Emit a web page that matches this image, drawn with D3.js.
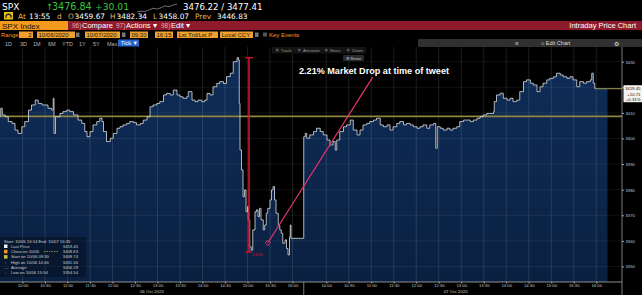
<!DOCTYPE html>
<html lang="en">
<head>
<meta charset="UTF-8">
<title>SPX Intraday Price Chart</title>
<script src="https://d3js.org/d3.v7.min.js"></script>
<style>
  html, body { margin: 0; padding: 0; background: #000; overflow: hidden; }
  svg { display: block; font-family: "Liberation Sans", Arial, sans-serif; }
</style>
</head>
<body>
<svg width="642" height="295"></svg>
<script>
// ---- data ----
const day1Times = ["09:30","09:31","09:33","09:37","09:41","09:46","09:50","09:54","09:59","10:03","10:08","10:12","10:17","10:21","10:26","10:30","10:34","10:39","10:41","10:42","10:44","10:50","10:54","10:59","11:03","11:08","11:14","11:19","11:23","11:26","11:30","11:34","11:39","11:43","11:46","11:48","11:52","11:57","12:01","12:06","12:10","12:14","12:19","12:23","12:28","12:32","12:37","12:41","12:46","12:50","12:54","12:59","13:03","13:08","13:12","13:17","13:21","13:26","13:30","13:34","13:39","13:41","13:46","13:50","13:54","13:59","14:03","14:06","14:10","14:14","14:19","14:23","14:28","14:32","14:37","14:41","14:46","14:48","14:49","14:50","14:52","14:54","14:56","14:58","15:00","15:01","15:03","15:05","15:07","15:10","15:12","15:14","15:16","15:18","15:21","15:23","15:25","15:27","15:30","15:32","15:34","15:36","15:38","15:41","15:43","15:45","15:47","15:50","15:52","15:54","15:56","15:57","15:58","16:15"];
const day1Prices = [3408.7,3411.8,3409.2,3408.5,3406.6,3405.9,3403.3,3402.0,3404.6,3406.6,3411.1,3413.1,3415.0,3413.7,3413.1,3413.1,3411.8,3411.1,3415.7,3402.0,3408.5,3409.8,3410.5,3411.1,3410.5,3409.2,3407.2,3405.9,3402.7,3400.7,3402.7,3405.3,3406.6,3407.9,3406.6,3402.7,3398.8,3400.1,3402.0,3404.0,3404.6,3405.3,3405.9,3406.6,3406.2,3405.3,3405.9,3407.2,3408.5,3412.4,3413.1,3413.7,3414.4,3417.0,3417.6,3417.0,3418.9,3417.0,3416.3,3415.7,3416.3,3418.3,3415.0,3414.4,3415.0,3414.4,3415.0,3417.6,3417.0,3420.2,3421.5,3422.2,3421.5,3424.2,3425.5,3430.0,3431.56,3430.7,3413.7,3395.5,3387.7,3377.3,3379.9,3371.4,3373.4,3368.2,3357.7,3356.4,3364.3,3371.4,3372.1,3369.5,3372.7,3368.2,3364.3,3366.2,3370.8,3372.7,3376.0,3379.9,3381.2,3376.0,3370.8,3366.2,3364.3,3363.0,3359.1,3360.4,3357.0,3354.54,3361.6,3366.2,3361.0,3361.0];

const day2Times = ["09:30","09:32","09:34","09:38","09:43","09:47","09:52","09:56","10:01","10:05","10:09","10:12","10:14","10:18","10:23","10:27","10:32","10:36","10:41","10:45","10:49","10:54","10:58","11:03","11:07","11:12","11:16","11:21","11:25","11:29","11:34","11:38","11:43","11:47","11:52","11:56","12:01","12:05","12:09","12:14","12:18","12:23","12:26","12:28","12:32","12:36","12:41","12:45","12:49","12:54","12:58","13:03","13:07","13:12","13:16","13:21","13:25","13:29","13:34","13:38","13:43","13:44","13:47","13:52","13:56","14:01","14:05","14:09","14:14","14:18","14:23","14:27","14:32","14:36","14:41","14:45","14:49","14:54","14:58","15:03","15:07","15:12","15:16","15:21","15:25","15:29","15:34","15:38","15:43","15:47","15:52","15:54","15:56","15:58","16:00"];
const day2Prices = [3400.7,3402.0,3400.1,3401.4,3402.7,3404.0,3402.7,3401.4,3399.4,3397.5,3398.8,3395.5,3399.4,3402.7,3404.6,3405.3,3407.2,3403.3,3401.4,3403.3,3405.3,3405.9,3406.6,3407.2,3407.9,3405.3,3404.6,3405.3,3403.3,3404.6,3405.9,3406.6,3405.3,3405.9,3405.3,3404.6,3404.0,3404.6,3405.3,3404.0,3405.3,3405.9,3396.2,3404.6,3404.0,3403.3,3404.0,3403.3,3404.0,3404.6,3406.6,3407.2,3407.2,3406.6,3407.2,3407.9,3408.5,3409.2,3409.8,3409.8,3410.5,3414.4,3417.0,3417.7,3415.7,3415.0,3415.7,3414.4,3415.0,3418.3,3422.2,3422.9,3421.6,3420.9,3418.3,3420.2,3421.6,3422.9,3423.5,3424.1,3425.5,3424.8,3424.1,3423.5,3424.1,3422.9,3420.2,3422.2,3421.6,3422.2,3422.9,3425.5,3421.6,3419.6,3419.45];

const timeTicks = ["10:00","10:30","11:00","11:30","12:00","12:30","13:00","13:30","14:00","14:30","15:00","15:30","16:00"];
const dayLabels = ["06 Oct 2020", "07 Oct 2020"];
const priceTicks = [3350, 3360, 3370, 3380, 3390, 3400, 3410, 3420, 3430];

const lastPrice = 3419.45;
const prevClose = 3408.63;
const highPrice = 3431.56;
const dropLow = 3355.7;   // high less 2.21%

const sparkValues = [3447, 3450, 3449, 3455, 3461, 3458, 3463, 3470, 3467, 3473, 3477];

const legendHeader = "Start: 10/05 16:14  End: 10/07 16:35";
const legendLabels = ["Last Price", "Close on 10/05", "Start on 10/06 09:30", "High on 10/06 14:46", "Average", "Low on 10/06 15:54"];
const legendValues = ["3419.45", "3408.63", "3408.74", "3431.56", "3406.29", "3354.54"];
const legendMarks = ["#f2f2f2", "#f39c1f", "#c9c23a", "#9aa0a6", "#9aa0a6", "#9aa0a6"];

// ---- layout ----
const svg = d3.select("svg");
const plotTop = 47, plotBottom = 282, plotRight = 622;
const sessionLen = 405; // 09:30 - 16:15

function sess(day, hhmm) {
  const [h, m] = hhmm.split(":").map(Number);
  return day * sessionLen + h * 60 + m - 570;
}

const x = d3.scaleLinear().domain([0, 2 * sessionLen]).range([0, 607.5]);
const y = d3.scaleLinear().domain([3350, 3430]).range([266.5, 61.7]);

const series = day1Times.map((t, i) => ({ t: sess(0, t), v: day1Prices[i] }))
  .concat(day2Times.map((t, i) => ({ t: sess(1, t), v: day2Prices[i] })));
const areaData = series.concat([{ t: 2 * sessionLen, v: lastPrice }]);

function txt(g, px, py, s, o = {}) {
  return g.append("text").attr("x", px).attr("y", py).text(s)
    .attr("font-size", o.size || 8)
    .attr("fill", o.fill || "#fff")
    .attr("font-weight", o.weight || null)
    .attr("font-family", o.family || null)
    .attr("text-anchor", o.anchor || null);
}

// ---- header ----
const head = svg.append("g");
const mono = "DejaVu Sans";
txt(head, 2, 9.5, "SPX", { size: 9, family: mono });
txt(head, 46, 9.5, "↑", { size: 9, fill: "#39c23c", family: mono });
txt(head, 52, 9.5, "3476.84", { size: 9.6, fill: "#39c23c", family: mono });
txt(head, 95, 9.5, "+30.01", { size: 9.2, fill: "#39c23c", family: mono });
txt(head, 183, 9.5, "3476.22 / 3477.41", { size: 8.6, family: mono });

const sx = d3.scaleLinear().domain([0, sparkValues.length - 1]).range([137, 177]);
const sy = d3.scaleLinear().domain(d3.extent(sparkValues)).range([12, 4]);
head.append("path")
  .attr("d", d3.line().x((d, i) => sx(i)).y(d => sy(d))(sparkValues))
  .attr("fill", "none").attr("stroke", "#8a8a8a").attr("stroke-width", 0.8);

head.append("rect").attr("x", 4).attr("y", 12).attr("width", 9).attr("height", 7.5).attr("fill", "#e8c21a");
head.append("path").attr("d", "M6,18 L6,15.5 Q8.5,13 11,15.5 L11,18").attr("fill", "none").attr("stroke", "#222").attr("stroke-width", 1.2);
const lab = "#e0b35a";
[[18, "At", lab], [29, "13:55", "#fff"], [57, "d", lab], [68, "O", lab], [74.5, "3459.67", "#fff"],
 [110, "H", lab], [116.5, "3482.34", "#fff"], [153, "L", lab], [158.5, "3458.07", "#fff"],
 [195, "Prev", lab], [217, "3446.83", "#fff"]].forEach(([px, s, c]) => txt(head, px, 19, s, { size: 7.4, fill: c, family: mono }));

// row 3 : security + menus
head.append("rect").attr("x", 0).attr("y", 21).attr("width", 642).attr("height", 9).attr("fill", "#8e1a2b");
head.append("rect").attr("x", 0).attr("y", 21).attr("width", 68).attr("height", 9).attr("fill", "#f39a1e");
txt(head, 2, 28.5, "SPX Index", { size: 8, fill: "#1a0d12" });
[[72, "96)", "Compare"], [116, "97)", "Actions ▾"], [161, "98)", "Edit ▾"]].forEach(([px, n, s]) => {
  txt(head, px, 28.3, n, { size: 6.5, fill: "#e9a7ae" });
  txt(head, px + 10, 28.3, s, { size: 7.5 });
});
txt(head, 636, 28.3, "Intraday Price Chart", { size: 7.5, anchor: "end" });

// row 4 : range fields
txt(head, 1, 37, "Range", { size: 6, fill: "#f39a1e" });
[[19, 33, "2", "end"], [37, 75, "10/06/2020"], [85, 120, "10/07/2020"], [130, 148, "09:30"],
 [155, 173, "16:15"], [177, 218, "Lst Trd/Lst P"], [220, 253, "Local CCY"]].forEach(([a, b, s, anc]) => {
  head.append("rect").attr("x", a).attr("y", 31.5).attr("width", b - a).attr("height", 6.5).attr("fill", "#f0a02c");
  txt(head, anc ? b - 1.5 : a + 1.5, 36.8, s, { size: 6, fill: "#1a1a1a", anchor: anc });
});
[76, 122, 255].forEach(px => head.append("rect").attr("x", px).attr("y", 32.5).attr("width", 3.5).attr("height", 4.5).attr("fill", "#777"));
head.append("rect").attr("x", 263).attr("y", 32.5).attr("width", 4).attr("height", 4).attr("fill", "#555");
txt(head, 269, 37, "Key Events", { size: 6, fill: "#f39a1e" });

// row 5 : period buttons
[[5, "1D"], [20, "3D"], [33, "1M"], [48, "6M"], [62, "YTD"], [79, "1Y"], [93, "5Y"], [107, "Max"]]
  .forEach(([px, s]) => txt(head, px, 45.5, s, { size: 5.5, fill: "#b8b8b8" }));
head.append("rect").attr("x", 118).attr("y", 39.5).attr("width", 21).attr("height", 7).attr("fill", "#2a64c8");
txt(head, 121, 45.3, "Tick ▼", { size: 5.5 });

// ---- plot ----
const plot = svg.append("g");
const defs = svg.append("defs");
const grad = defs.append("linearGradient").attr("id", "fillGrad").attr("x1", 0).attr("y1", 0).attr("x2", 0).attr("y2", 1);
grad.append("stop").attr("offset", "0%").attr("stop-color", "#0f2d58");
grad.append("stop").attr("offset", "100%").attr("stop-color", "#0a2041");
defs.append("marker").attr("id", "arrow").attr("viewBox", "0 0 6 6").attr("refX", 3).attr("refY", 3)
  .attr("markerWidth", 4).attr("markerHeight", 4).attr("orient", "auto")
  .append("rect").attr("x", 0.5).attr("y", 0.5).attr("width", 5).attr("height", 5)
  .attr("fill", "none").attr("stroke", "#e8336b").attr("stroke-width", 1);

plot.append("path")
  .attr("d", d3.area().x(d => x(d.t)).y0(plotBottom).y1(d => y(d.v)).curve(d3.curveStepAfter)(areaData))
  .attr("fill", "url(#fillGrad)");

// grid
const tickPos = [0, 1].flatMap(day => timeTicks.map(t => sess(day, t)));
plot.append("g").selectAll("line").data(tickPos).join("line")
  .attr("x1", d => x(d)).attr("x2", d => x(d)).attr("y1", plotTop).attr("y2", plotBottom)
  .attr("stroke", "#fff").attr("stroke-opacity", 0.14).attr("stroke-width", 0.8);
plot.append("g").selectAll("line").data(priceTicks).join("line")
  .attr("x1", 0).attr("x2", plotRight).attr("y1", d => y(d)).attr("y2", d => y(d))
  .attr("stroke", "#fff").attr("stroke-opacity", 0.09).attr("stroke-width", 0.7);

// previous close line
plot.append("line").attr("x1", 0).attr("x2", plotRight).attr("y1", y(prevClose)).attr("y2", y(prevClose))
  .attr("stroke", "#8f8540").attr("stroke-width", 1.6);

// price line
plot.append("path")
  .attr("d", d3.line().x(d => x(d.t)).y(d => y(d.v)).curve(d3.curveStepAfter)(series))
  .attr("fill", "none").attr("stroke", "#cfd3d8").attr("stroke-width", 0.85);
plot.append("line").attr("x1", x(sess(1, "16:00"))).attr("x2", plotRight)
  .attr("y1", y(lastPrice)).attr("y2", y(lastPrice)).attr("stroke", "#a09c5c").attr("stroke-width", 1);

// axes (the 3420 label sits under the last price box)
const yAxis = svg.append("g").attr("transform", `translate(${plotRight},0)`)
  .call(d3.axisRight(y).tickValues(priceTicks).tickSize(2).tickPadding(1.5)
    .tickFormat(d => Math.abs(y(d) - y(lastPrice)) < 8 ? "" : d3.format("d")(d)));
yAxis.select(".domain").remove();
yAxis.selectAll("line").attr("stroke", "#aaa");
yAxis.selectAll("text").attr("fill", "#c8c8c8").attr("font-size", 4.2).attr("font-family", "Liberation Sans, Arial");
svg.append("line").attr("x1", plotRight).attr("x2", plotRight).attr("y1", plotTop).attr("y2", 295)
  .attr("stroke", "#9a9a9a").attr("stroke-width", 0.8);

const xAxis = svg.append("g").attr("transform", `translate(0,${plotBottom})`)
  .call(d3.axisBottom(x).tickValues(tickPos).tickSize(1.5).tickPadding(1)
    .tickFormat(d => timeTicks[tickPos.indexOf(d) % timeTicks.length]));
xAxis.select(".domain").attr("d", `M0,0H${plotRight}`).attr("stroke", "#b0b0b0").attr("stroke-width", 0.8);
xAxis.selectAll("line").attr("stroke", "#b0b0b0");
xAxis.selectAll("text").attr("fill", "#c8c8c8").attr("font-size", 4.2).attr("font-family", "Liberation Sans, Arial");
svg.append("line").attr("x1", x(sessionLen)).attr("x2", x(sessionLen)).attr("y1", plotBottom).attr("y2", 295)
  .attr("stroke", "#9a9a9a").attr("stroke-width", 0.8);
dayLabels.forEach((s, i) => txt(svg, x(sessionLen * i + sessionLen / 2), 292.5, s, { size: 4.4, fill: "#c8c8c8", anchor: "middle" }));

// last price box
const box = svg.append("g");
box.append("rect").attr("x", 623.5).attr("y", y(lastPrice) - 3.5).attr("width", 19).attr("height", 17).attr("fill", "#f2f2f2");
[["3419.45", 1.5], ["+10.71", 6.8], ["+0.31%", 12]].forEach(([s, dy]) =>
  txt(box, 640.5, y(lastPrice) + dy, s, { size: 4.3, fill: "#111", anchor: "end" }));

// ---- chart toolbar ----
const tb = svg.append("g");
tb.append("rect").attr("x", 418).attr("y", 39).attr("width", 224).attr("height", 8).attr("fill", "#303030");
txt(tb, 515, 45.5, "«", { size: 6.5, fill: "#ddd" });
txt(tb, 541, 45.3, "⌂ Edit Chart", { size: 5.5, fill: "#ddd" });
txt(tb, 614, 45.5, "⚙", { size: 6, fill: "#ddd" });
tb.append("rect").attr("x", 272).attr("y", 47).attr("width", 94).attr("height", 6.5).attr("fill", "#141414");
[[276, "Track"], [298, "Annotate"], [325, "News"], [347, "Zoom"]].forEach(([px, s]) => {
  tb.append("rect").attr("x", px).attr("y", 48.8).attr("width", 2.5).attr("height", 2.5).attr("fill", "#555");
  txt(tb, px + 5, 51.5, s, { size: 4.2, fill: "#9a9a9a" });
});
tb.append("rect").attr("x", 343).attr("y", 55).attr("width", 21).attr("height", 6).attr("rx", 1).attr("fill", "#2b2b2b");
txt(tb, 345.5, 59.6, "⚙ Reset", { size: 4, fill: "#cfcfcf" });

// ---- legend ----
const lg = svg.append("g");
lg.append("rect").attr("x", 0).attr("y", 237).attr("width", 86).attr("height", 40).attr("fill", "#000").attr("fill-opacity", 0.3);
txt(lg, 4, 242.5, legendHeader, { size: 4.2, fill: "#d0d0d0" });
legendLabels.forEach((s, i) => {
  const ly = 247.8 + i * 5.3;
  if (i < 3) lg.append("rect").attr("x", 4).attr("y", ly - 3.3).attr("width", 3.5).attr("height", 3.5).attr("fill", legendMarks[i]);
  else txt(lg, 4.5, ly, ["↑", "—", "↓"][i - 3], { size: 4, fill: legendMarks[i] });
  txt(lg, 11, ly, s, { size: 4.2, fill: "#d0d0d0" });
  txt(lg, 78, ly, legendValues[i], { size: 4.2, fill: "#d0d0d0", anchor: "end" });
});
lg.append("line").attr("x1", 44).attr("x2", 58).attr("y1", 251.5).attr("y2", 251.5)
  .attr("stroke", "#c9b25a").attr("stroke-width", 0.7).attr("stroke-dasharray", "1.5,1");

// ---- annotations ----
const ann = svg.append("g");
const dropX = x(sess(0, "15:02"));
ann.append("line").attr("x1", dropX).attr("x2", dropX).attr("y1", y(highPrice)).attr("y2", y(dropLow))
  .attr("stroke", "#e0142a").attr("stroke-width", 1.5);
ann.append("line").attr("x1", dropX - 4).attr("x2", dropX + 4).attr("y1", y(highPrice)).attr("y2", y(highPrice))
  .attr("stroke", "#e0142a").attr("stroke-width", 1.3);
ann.append("line").attr("x1", dropX - 3).attr("x2", dropX + 3).attr("y1", y(dropLow)).attr("y2", y(dropLow))
  .attr("stroke", "#e0142a").attr("stroke-width", 1.3);
txt(ann, dropX + 2.5, y(dropLow) + 4, "-2.21%", { size: 3.5, fill: "#e0142a" });

ann.append("line")
  .attr("x1", x(sess(1, "11:02"))).attr("y1", y(3424.0))
  .attr("x2", x(sess(0, "15:27"))).attr("y2", y(3359.2))
  .attr("stroke", "#e8336b").attr("stroke-width", 1.2).attr("marker-end", "url(#arrow)");

txt(ann, 299, 74, "2.21% Market Drop at time of tweet", { size: 9, weight: "bold" })
  .attr("textLength", 150).attr("lengthAdjust", "spacingAndGlyphs");
</script>
</body>
</html>
